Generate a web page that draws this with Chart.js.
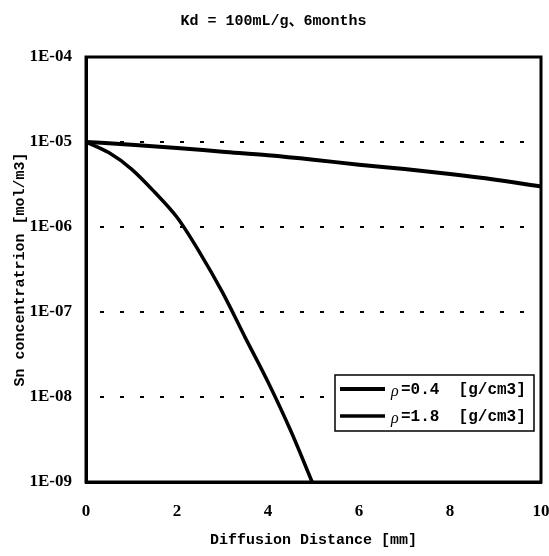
<!DOCTYPE html>
<html>
<head>
<meta charset="utf-8">
<script src="https://cdn.jsdelivr.net/npm/chart.js@4"></script>
<style>
  html, body { margin: 0; padding: 0; background: #fff; }
  #wrap { width: 549px; height: 556px; }
</style>
</head>
<body>
<div id="wrap"><canvas id="c" width="549" height="556"></canvas></div>
<script>
// values
const distLow = [0, 1, 2, 3, 4, 5, 6, 7, 8, 9, 10];
const concLow = [1e-5, 9.3e-6, 8.5e-6, 7.7e-6, 7.0e-6, 6.2e-6, 5.4e-6, 4.8e-6, 4.2e-6, 3.6e-6, 3.0e-6];

const distHigh = [0, 0.5, 1, 1.5, 2, 2.5, 3, 3.5, 4, 4.5, 4.97];
const concHigh = [1e-5, 7.5e-6, 4.8e-6, 2.6e-6, 1.3e-6, 5.0e-7, 1.7e-7, 5.0e-8, 1.5e-8, 4.0e-9, 1e-9];

const seriesLabels = ['=0.4  [g/cm3]', '=1.8  [g/cm3]'];
const decades = [-9, -8, -7, -6, -5, -4];

const serif = '"Liberation Serif", "Noto Sans CJK JP", serif';
const mono = '"Liberation Mono", "Noto Sans CJK JP", monospace';

const toPoints = (xs, ys) => xs.map((x, i) => ({ x: x, y: ys[i] }));

// frame, y title and legend box
const extras = {
  id: 'extras',
  afterDraw(chart) {
    const { ctx, chartArea: a } = chart;
    ctx.save();
    ctx.strokeStyle = '#000';
    ctx.lineWidth = 3;
    ctx.strokeRect(a.left, a.top, a.right - a.left, a.bottom - a.top);

    // y title
    ctx.save();
    ctx.translate(20, (a.top + a.bottom) / 2);
    ctx.rotate(-Math.PI / 2);
    ctx.font = 'bold 15px ' + mono;
    ctx.fillStyle = '#000';
    ctx.textAlign = 'center';
    ctx.textBaseline = 'middle';
    ctx.fillText('Sn concentratrion [mol/m3]', 0, 0);
    ctx.restore();

    // legend
    const bx = a.right - 206, by = a.bottom - 107, bw = 199, bh = 56;
    ctx.fillStyle = '#fff';
    ctx.fillRect(bx, by, bw, bh);
    ctx.lineWidth = 1.5;
    ctx.strokeRect(bx, by, bw, bh);
    chart.data.datasets.forEach((ds, i) => {
      const y = by + 14 + i * 27;
      ctx.beginPath();
      ctx.lineWidth = ds.borderWidth;
      ctx.moveTo(bx + 5, y);
      ctx.lineTo(bx + 50, y);
      ctx.stroke();
      ctx.fillStyle = '#000';
      ctx.textBaseline = 'middle';
      ctx.font = 'italic 16px ' + serif;
      ctx.fillText('\u03C1', bx + 56, y + 3);
      ctx.font = 'bold 16px ' + mono;
      ctx.fillText(ds.label, bx + 66, y + 1);
    });
    ctx.restore();
  }
};

new Chart(document.getElementById('c'), {
  type: 'line',
  data: {
    datasets: [
      {
        label: seriesLabels[0],
        data: toPoints(distLow, concLow),
        borderColor: '#000',
        borderWidth: 4,
        pointRadius: 0,
        cubicInterpolationMode: 'monotone'
      },
      {
        label: seriesLabels[1],
        data: toPoints(distHigh, concHigh),
        borderColor: '#000',
        borderWidth: 3.5,
        pointRadius: 0,
        cubicInterpolationMode: 'monotone'
      }
    ]
  },
  options: {
    responsive: false,
    animation: false,
    layout: { padding: { left: 6, right: 8, top: 0, bottom: 4 } },
    plugins: {
      legend: { display: false },
      tooltip: { enabled: false },
      title: {
        display: true,
        text: 'Kd = 100mL/g\u30016months',
        color: '#000',
        font: { family: mono, size: 15, weight: 'bold' },
        padding: { top: 12, bottom: 27 }
      }
    },
    scales: {
      x: {
        type: 'linear',
        min: 0,
        max: 10,
        afterFit(scale) {
          scale.paddingRight = 0;
          scale.height = 70;
        },
        ticks: {
          stepSize: 2,
          color: '#000',
          padding: 19,
          font: { family: serif, size: 17, weight: 'bold' }
        },
        grid: { display: false, drawTicks: false },
        border: { color: '#000', width: 3 },
        title: {
          display: true,
          text: 'Diffusion Distance [mm]',
          color: '#000',
          font: { family: mono, size: 15, weight: 'bold' },
          padding: { top: 6, bottom: 3 }
        }
      },
      y: {
        type: 'logarithmic',
        min: 1e-9,
        max: 1e-4,
        afterBuildTicks(scale) {
          scale.ticks = decades.map(e => ({ value: Math.pow(10, e) }));
        },
        afterFit(scale) {
          scale.width = 80;
        },
        ticks: {
          color: '#000',
          padding: 14,
          font: { family: serif, size: 17, weight: 'bold' },
          callback(v) {
            const e = Math.round(Math.log10(v));
            return '1E-0' + (-e);
          }
        },
        grid: {
          color: '#000',
          lineWidth: 2,
          drawTicks: false
        },
        border: { color: '#000', width: 3, dash: [4, 16], dashOffset: 8 }
      }
    }
  },
  plugins: [extras]
});
</script>
</body>
</html>
